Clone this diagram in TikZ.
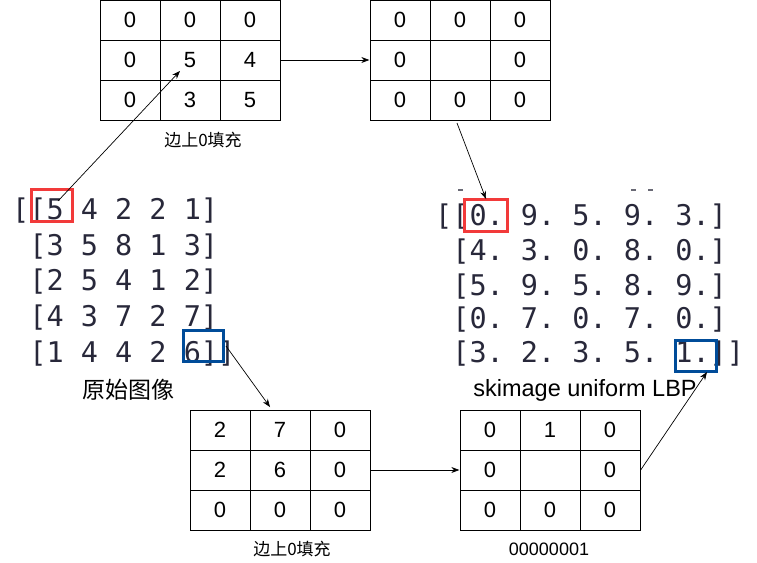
\documentclass[tikz,border=0pt]{standalone}
\usepackage{fontspec}
\setmainfont{Liberation Sans}
\newfontfamily\cjk{Noto Sans CJK SC}
\newfontfamily\monof{DejaVu Sans Mono}
\usetikzlibrary{arrows.meta,matrix}
\definecolor{txt}{RGB}{40,40,58}
\definecolor{redbox}{RGB}{242,58,58}
\definecolor{bluebox}{RGB}{0,76,153}
\frenchspacing
\begin{document}
\begin{tikzpicture}[x=1pt,y=-1pt,
  grid/.style={matrix of nodes, nodes in empty cells,
    nodes={draw, line width=0.9pt, minimum width=60pt, minimum height=40pt,
      inner sep=0pt, anchor=center, font=\fontsize{22}{24}\selectfont},
    column sep=-0.9pt, row sep=-0.9pt, inner sep=0pt},
  arr/.style={-{Stealth[length=8pt,width=6pt]}, line width=0.7pt},
  mrow/.style={anchor=base west, inner sep=0pt, text=txt,
    font=\monof\fontsize{28.5}{30}\selectfont},
  hl/.style={draw=#1, line width=3pt, inner sep=0pt},
  cjklab/.style={font=\cjk\fontsize{17}{20}\selectfont, inner sep=0pt},
]
\useasboundingbox (0,0) rectangle (757,562);

% grids
\matrix (g1) [grid] at (190,60) {0 & 0 & 0\\ 0 & 5 & 4\\ 0 & 3 & 5\\};
\matrix (g2) [grid] at (460,60) {0 & 0 & 0\\ 0 &   & 0\\ 0 & 0 & 0\\};
\matrix (g3) [grid] at (280,470) {2 & 7 & 0\\ 2 & 6 & 0\\ 0 & 0 & 0\\};
\matrix (g4) [grid] at (550,470) {0 & 1 & 0\\ 0 &   & 0\\ 0 & 0 & 0\\};

% labels
\node[cjklab] (lab1) at (203,140) {边上0填充};
\node[cjklab] (lab2) at (292,549) {边上0填充};
\node[inner sep=0pt, font=\fontsize{18}{20}\selectfont] (lab3) at (549,549) {00000001};
\node[inner sep=0pt, font=\cjk\fontsize{23}{26}\selectfont] (orig) at (128,390) {原始图像};
\node[inner sep=0pt, font=\fontsize{23.5}{26}\selectfont] (sk) at (585,390) {skimage uniform LBP};

% original matrix
\node[mrow] (a1) at (12,219) {[[5 4 2 2 1]};
\node[mrow] (a2) at (12,255) {\phantom{[}[3 5 8 1 3]};
\node[mrow] (a3) at (12,290) {\phantom{[}[2 5 4 1 2]};
\node[mrow] (a4) at (12,326) {\phantom{[}[4 3 7 2 7]};
\node[mrow] (a5) at (12,362) {\phantom{[}[1 4 4 2 6]]};

% LBP matrix
\node[mrow] (b1) at (435,225) {[[0. 9. 5. 9. 3.]};
\node[mrow] (b2) at (435,260) {\phantom{[}[4. 3. 0. 8. 0.]};
\node[mrow] (b3) at (435,295) {\phantom{[}[5. 9. 5. 8. 9.]};
\node[mrow] (b4) at (435,328) {\phantom{[}[0. 7. 0. 7. 0.]};
\node[mrow] (b5) at (435,362) {\phantom{[}[3. 2. 3. 5. 1.]]};

% cut-off remnants above LBP matrix
\fill[txt!70] (458,189) rectangle (463,191);
\fill[txt!70] (631,189) rectangle (636,191);
\fill[txt!70] (648,189) rectangle (653,191);

% highlight boxes
\node[hl=redbox, minimum width=41pt, minimum height=32pt] (rb1) at (51.5,205) {};
\node[hl=bluebox, minimum width=40pt, minimum height=31pt] (bb1) at (203,345.5) {};
\node[hl=redbox, minimum width=43pt, minimum height=32pt] (rb2) at (485.5,215) {};
\node[hl=bluebox, minimum width=41pt, minimum height=31pt] (bb2) at (695.5,355.5) {};

% connector end points
\coordinate (rb1in) at (58,201);
\coordinate (g1tip) at (180,71);
\coordinate (g2out) at (457,123);
\coordinate (rb2tip) at (486,199);
\coordinate (bb1out) at (226,346);
\coordinate (g3tip) at (270,407);
\coordinate (bb2tip) at (707,372);

% connectors
\draw[arr] (rb1in) -- (g1tip);
\draw[arr] (g1.east) -- (g2.west);
\draw[arr] (g2out) -- (rb2tip);
\draw[arr] (bb1out) -- (g3tip);
\draw[arr] (g3.east) -- (g4.west);
\draw[arr] (g4.east) -- (bb2tip);
\end{tikzpicture}
\end{document}
